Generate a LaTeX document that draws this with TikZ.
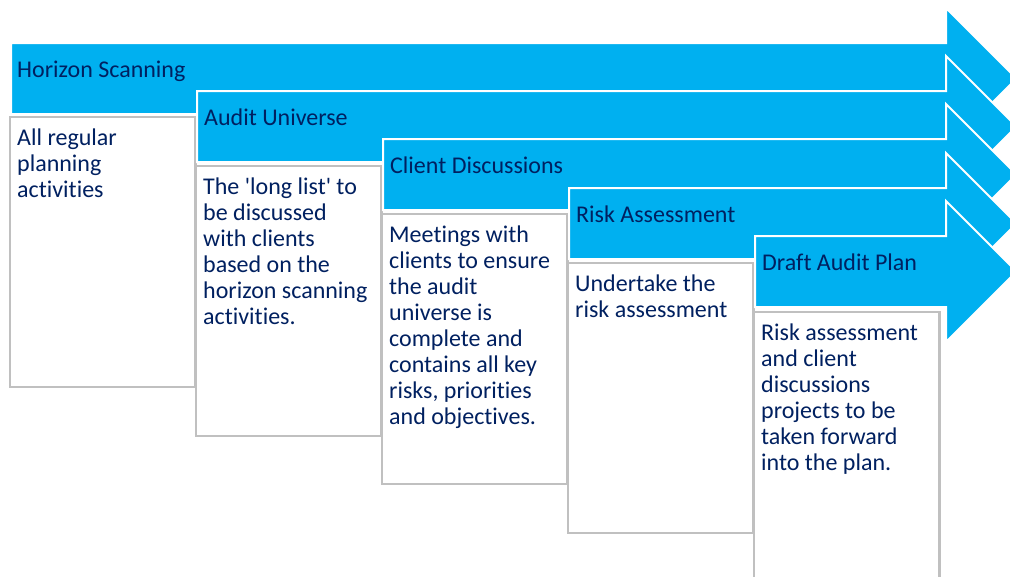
\documentclass[tikz,border=0pt]{standalone}
\usepackage{fontspec}
\setmainfont{Carlito}[Ligatures=NoCommon]
\usetikzlibrary{positioning}
\definecolor{stageblue}{HTML}{00B0F0}
\definecolor{stagetext}{HTML}{002060}
\definecolor{boxgray}{HTML}{C0C0C0}

\begin{document}
\begin{tikzpicture}[
  x=1pt, y=-1pt,
  stagearrow/.style={fill=stageblue, draw=white, line width=2pt, line join=miter},
  stagebox/.style={rectangle, draw=boxgray, fill=white, line width=2.5pt,
                   anchor=north west, outer sep=0pt, inner sep=0pt,
                   minimum width=185.5pt, minimum height=270pt},
  title/.style={font=\fontsize{24}{26}\selectfont, text=stagetext, inner sep=0pt,
                text height=15pt, text depth=4pt},
  detail/.style={font=\fontsize{24}{26}\selectfont, text=stagetext, inner sep=0pt,
                 align=left}
]
  \useasboundingbox (0,0) rectangle (1010,576);
  \clip (0,0) rectangle (1010,576);

  % Horizon Scanning
  \draw[stagearrow] (11,43) coordinate (hsbar) -- (946,43) -- ++(0,-35) -- ++(70.5,70.5)
    -- ++(-70.5,70.5) -- ++(0,-35) -- (11,114) -- cycle;
  \node[title, below right=19pt and 6pt of hsbar] (hstitle) {Horizon Scanning};
  \node[stagebox] (hsbox) at (10,117) {};
  \node[detail, below right=11.5pt and 7pt of hsbox.north west] (hstext)
    {All regular\\planning\\activities};

  % Audit Universe
  \draw[stagearrow] (197,91) coordinate (aubar) -- (946,91) -- ++(0,-35) -- ++(70.5,70.5)
    -- ++(-70.5,70.5) -- ++(0,-35) -- (197,162) -- cycle;
  \node[title, below right=19pt and 7pt of aubar] (autitle) {Audit Universe};
  \node[stagebox] (aubox) at (196,166) {};
  \node[detail, below right=11.5pt and 7pt of aubox.north west] (autext)
    {The \textquotesingle long list\textquotesingle{} to\\be discussed\\with clients\\based on the\\horizon scanning\\activities.};

  % Client Discussions
  \draw[stagearrow] (383,139) coordinate (cdbar) -- (946,139) -- ++(0,-35) -- ++(70.5,70.5)
    -- ++(-70.5,70.5) -- ++(0,-35) -- (383,210) -- cycle;
  \node[title, below right=19pt and 7pt of cdbar] (cdtitle) {Client Discussions};
  \node[stagebox] (cdbox) at (382,214) {};
  \node[detail, below right=11.5pt and 7pt of cdbox.north west] (cdtext)
    {Meetings with\\clients to ensure\\the audit\\universe is\\complete and\\contains all key\\risks, priorities\\and objectives.};

  % Risk Assessment
  \draw[stagearrow] (569,188) coordinate (rabar) -- (946,188) -- ++(0,-35) -- ++(70.5,70.5)
    -- ++(-70.5,70.5) -- ++(0,-35) -- (569,259) -- cycle;
  \node[title, below right=19pt and 7pt of rabar] (ratitle) {Risk Assessment};
  \node[stagebox] (rabox) at (568,263) {};
  \node[detail, below right=11.5pt and 7pt of rabox.north west] (ratext)
    {Undertake the\\risk assessment};

  % Draft Audit Plan
  \draw[stagearrow] (755,236) coordinate (dpbar) -- (946,236) -- ++(0,-35) -- ++(70.5,70.5)
    -- ++(-70.5,70.5) -- ++(0,-35) -- (755,307) -- cycle;
  \node[title, below right=19pt and 7pt of dpbar] (dptitle) {Draft Audit Plan};
  \node[stagebox] (dpbox) at (754,312) {};
  \node[detail, below right=11.5pt and 7pt of dpbox.north west] (dptext)
    {Risk assessment\\and client\\discussions\\projects to be\\taken forward\\into the plan.};
\end{tikzpicture}
\end{document}
